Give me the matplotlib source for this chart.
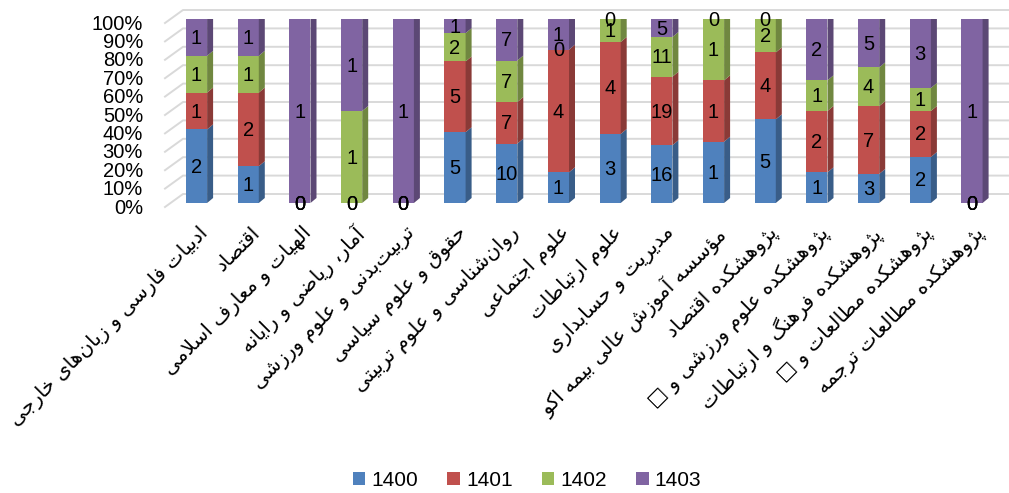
"""
نمودار ستونی انباشته ۱۰۰٪ (سبک سه‌بعدی اکسل) برای دانشکده‌ها و پژوهشکده‌ها.
"""
import numpy as np
import matplotlib
matplotlib.use('Agg')
import matplotlib.pyplot as plt
from matplotlib.patches import Polygon, Patch

plt.rcParams['font.family'] = ['Liberation Sans', 'DejaVu Sans']

# داده‌ها
categories = [
    'ادبیات فارسی و زبان\u200cهای خارجی',
    'اقتصاد',
    'الهیات و معارف اسلامی',
    'آمار، ریاضی و رایانه',
    'تربیت\u200cبدنی و علوم ورزشی',
    'حقوق و علوم سیاسی',
    'روان\u200cشناسی و علوم تربیتی',
    'علوم اجتماعی',
    'علوم ارتباطات',
    'مدیریت و حسابداری',
    'مؤسسه آموزش عالی بیمه اکو',
    'پژوهشکده اقتصاد',
    'پژوهشکده علوم ورزشی و \u25a1',
    'پژوهشکده فرهنگ و ارتباطات',
    'پژوهشکده مطالعات و \u25a1',
    'پژوهشکده مطالعات ترجمه',
]
series_names = ['1400', '1401', '1402', '1403']
y1400 = [2, 1, 0, 0, 0, 5, 10, 1, 3, 16, 1, 5, 1, 3, 2, 0]
y1401 = [1, 2, 0, 0, 0, 5, 7, 4, 4, 19, 1, 4, 2, 7, 2, 0]
y1402 = [1, 1, 0, 1, 0, 2, 7, 0, 1, 11, 1, 2, 1, 4, 1, 0]
y1403 = [1, 1, 1, 1, 1, 1, 7, 1, 0, 5, 0, 0, 2, 5, 3, 1]
yticks = [0, 10, 20, 30, 40, 50, 60, 70, 80, 90, 100]

colors = ['#4F81BD', '#C0504D', '#9BBB59', '#8064A2']


# --- شکل‌دهی ساده حروف فارسی (matplotlib خودش راست‌به‌چپ را پشتیبانی نمی‌کند)
# (isolated, final, initial, medial)
FORMS = {
    'ا': (0xFE8D, 0xFE8E, None, None), 'آ': (0xFE81, 0xFE82, None, None),
    'أ': (0xFE83, 0xFE84, None, None), 'ؤ': (0xFE85, 0xFE86, None, None),
    'ئ': (0xFE89, 0xFE8A, 0xFE8B, 0xFE8C), 'ب': (0xFE8F, 0xFE90, 0xFE91, 0xFE92),
    'ة': (0xFE93, 0xFE94, None, None), 'ت': (0xFE95, 0xFE96, 0xFE97, 0xFE98),
    'ث': (0xFE99, 0xFE9A, 0xFE9B, 0xFE9C), 'ج': (0xFE9D, 0xFE9E, 0xFE9F, 0xFEA0),
    'ح': (0xFEA1, 0xFEA2, 0xFEA3, 0xFEA4), 'خ': (0xFEA5, 0xFEA6, 0xFEA7, 0xFEA8),
    'د': (0xFEA9, 0xFEAA, None, None), 'ذ': (0xFEAB, 0xFEAC, None, None),
    'ر': (0xFEAD, 0xFEAE, None, None), 'ز': (0xFEAF, 0xFEB0, None, None),
    'س': (0xFEB1, 0xFEB2, 0xFEB3, 0xFEB4), 'ش': (0xFEB5, 0xFEB6, 0xFEB7, 0xFEB8),
    'ص': (0xFEB9, 0xFEBA, 0xFEBB, 0xFEBC), 'ض': (0xFEBD, 0xFEBE, 0xFEBF, 0xFEC0),
    'ط': (0xFEC1, 0xFEC2, 0xFEC3, 0xFEC4), 'ظ': (0xFEC5, 0xFEC6, 0xFEC7, 0xFEC8),
    'ع': (0xFEC9, 0xFECA, 0xFECB, 0xFECC), 'غ': (0xFECD, 0xFECE, 0xFECF, 0xFED0),
    'ف': (0xFED1, 0xFED2, 0xFED3, 0xFED4), 'ق': (0xFED5, 0xFED6, 0xFED7, 0xFED8),
    'ل': (0xFEDD, 0xFEDE, 0xFEDF, 0xFEE0), 'م': (0xFEE1, 0xFEE2, 0xFEE3, 0xFEE4),
    'ن': (0xFEE5, 0xFEE6, 0xFEE7, 0xFEE8), 'ه': (0xFEE9, 0xFEEA, 0xFEEB, 0xFEEC),
    'و': (0xFEED, 0xFEEE, None, None),
    'پ': (0xFB56, 0xFB57, 0xFB58, 0xFB59), 'چ': (0xFB7A, 0xFB7B, 0xFB7C, 0xFB7D),
    'ژ': (0xFB8A, 0xFB8B, None, None), 'ک': (0xFB8E, 0xFB8F, 0xFB90, 0xFB91),
    'گ': (0xFB92, 0xFB93, 0xFB94, 0xFB95), 'ی': (0xFBFC, 0xFBFD, 0xFBFE, 0xFBFF),
}
LAM_ALEF = {'ا': (0xFEFB, 0xFEFC), 'آ': (0xFEF5, 0xFEF6)}


def dual(ch):
    return ch in FORMS and FORMS[ch][2] is not None


def shape_fa(text):
    out = []
    i = 0
    n = len(text)
    while i < n:
        ch = text[i]
        prev = text[i - 1] if i > 0 else ''
        nxt = text[i + 1] if i + 1 < n else ''
        if ch not in FORMS:
            if ch != '\u200c':
                out.append(ch)
            i += 1
            continue
        jp = dual(prev)
        if ch == 'ل' and nxt in LAM_ALEF:
            out.append(chr(LAM_ALEF[nxt][1 if jp else 0]))
            i += 2
            continue
        jn = dual(ch) and nxt in FORMS
        iso, fin, ini, med = FORMS[ch]
        if jp and jn:
            code = med
        elif jp:
            code = fin
        elif jn:
            code = ini
        else:
            code = iso
        out.append(chr(code))
        i += 1
    return ''.join(reversed(out))


def darker(c, f):
    r, g, b = matplotlib.colors.to_rgb(c)
    return (r * f, g * f, b * f)


data = np.array([y1400, y1401, y1402, y1403], dtype=float)
totals = data.sum(axis=0)
frac = data / totals
x = np.arange(len(categories))

W, H = 1009, 493
fig = plt.figure(figsize=(W / 100, H / 100), dpi=100)
# محور: پایه ستون‌ها در y=203px و بالای آن‌ها در y=19px
ax_left, ax_right = 165, 1008
y0_px, y1_px = 203, 19
ax = fig.add_axes([ax_left / W, 1 - y0_px / H, (ax_right - ax_left) / W, (y0_px - y1_px) / H])
xlo = -(196.5 - ax_left) / 51.7
xhi = 15 + (ax_right - 972) / 51.7
ax.set_xlim(xlo, xhi)
ax.set_ylim(0, 1)
ax.axis('off')

px_x = (xhi - xlo) / (ax_right - ax_left)   # واحد داده در هر پیکسل افقی
px_y = 1.0 / (y0_px - y1_px)               # واحد داده در هر پیکسل عمودی

# خطوط شبکه با دیوار کناری مایل
grid_c = '#D9D9D9'
for t in yticks:
    v = t / 100
    xa = xlo
    xb = xlo + 18 * px_x
    ya = v - 4 * px_y
    yb = v + 9 * px_y
    ax.plot([xa, xb, xhi], [ya, yb, yb], color=grid_c, lw=1.4, clip_on=False, zorder=0)
    ax.text(xlo - 22 * px_x, v - 5 * px_y, f'{t}%', ha='right', va='center',
            fontsize=14.5, color='black', clip_on=False)

# ستون‌ها
bw = 0.41
ddx = 6 * px_x
ddy = 5 * px_y
bottom = np.zeros(len(categories))
for k in range(4):
    h = frac[k]
    ax.bar(x, h, bottom=bottom, width=bw, color=colors[k], lw=0, zorder=2)
    for i in range(len(categories)):
        b0 = bottom[i]
        b1 = b0 + h[i]
        xr = x[i] + bw / 2
        if h[i] > 0:
            ax.add_patch(Polygon([(xr, b0), (xr + ddx, b0 + ddy), (xr + ddx, b1 + ddy), (xr, b1)],
                                 closed=True, fc=darker(colors[k], 0.72), lw=0, zorder=2))
            if abs(b1 - 1) < 1e-9:
                xl = x[i] - bw / 2
                ax.add_patch(Polygon([(xl, b1), (xl + ddx, b1 + ddy), (xr + ddx, b1 + ddy), (xr, b1)],
                                     closed=True, fc=darker(colors[k], 0.9), lw=0, zorder=2))
        ax.text(x[i], b0 + h[i] / 2 - 1 * px_y, f'{int(data[k, i])}', ha='center', va='center',
                fontsize=14.5, color='black', zorder=5, clip_on=False)
    bottom = bottom + h

# برچسب دسته‌ها
for i, name in enumerate(categories):
    ax.text(x[i] + 2 * px_x, -20 * px_y, shape_fa(name), rotation=45, rotation_mode='anchor',
            ha='right', va='top', fontsize=14.5, family=['DejaVu Sans'], clip_on=False)

handles = [Patch(facecolor=c, edgecolor='none') for c in colors]
fig.legend(handles, series_names, loc='center', bbox_to_anchor=(527 / W, 1 - 480 / H), ncol=4,
           frameon=False, fontsize=15, handlelength=0.6, handleheight=0.6,
           handletextpad=0.3, columnspacing=1.4)

fig.savefig('out.png', dpi=100)
